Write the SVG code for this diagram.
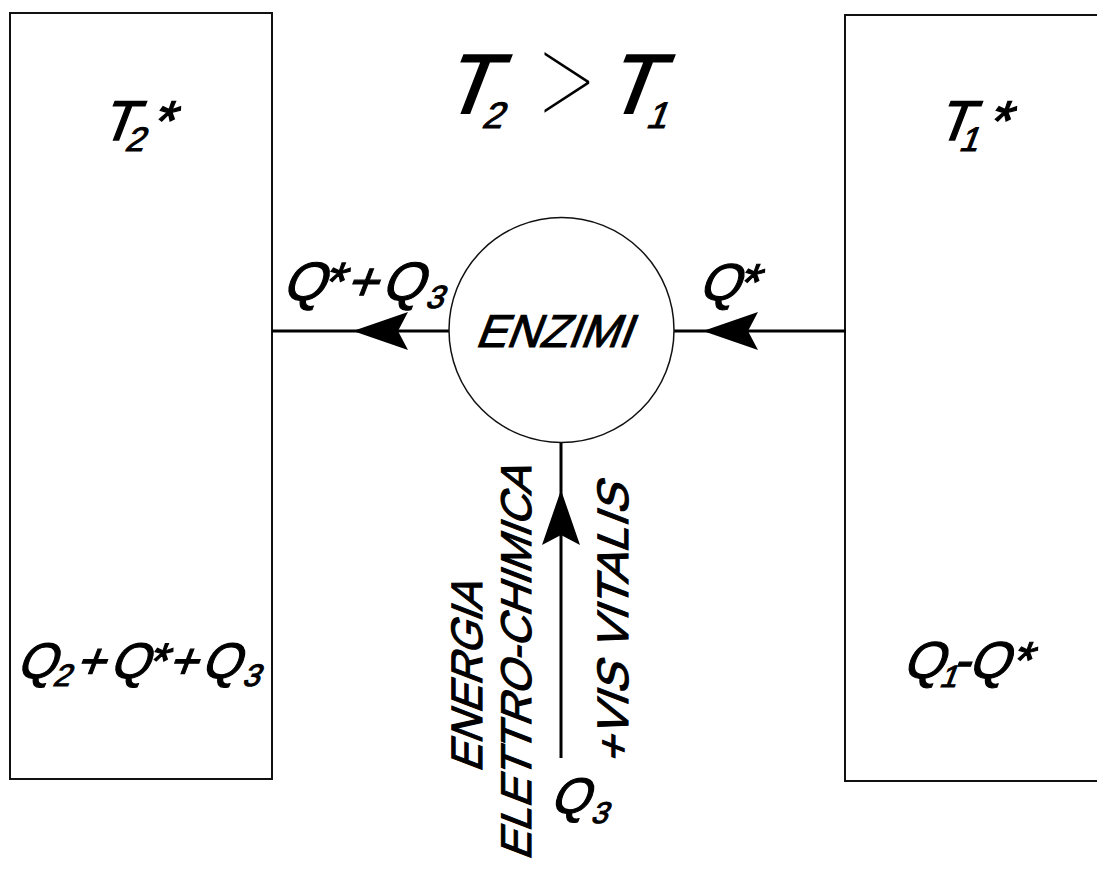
<svg xmlns="http://www.w3.org/2000/svg" width="1097" height="872" viewBox="0 0 1097 872">
  <style>
    .box { fill: none; stroke: #111; stroke-width: 2; }
    .conn { fill: none; stroke: #000; stroke-width: 3; }
    .circ { fill: #fff; stroke: #111; stroke-width: 1.5; }
    text { font-family: "Liberation Sans", Arial, sans-serif; fill: #000; stroke: #000; stroke-width: 1.1; }
    .big { font-size: 84px; stroke-width: 2; }
    .sub1 { font-size: 37px; }
    .mid { font-size: 56px; stroke-width: 1.4; }
    .sub2 { font-size: 34px; }
    .lab { font-size: 50px; }
    .lab2 { font-size: 54px; }
    .lab3 { font-size: 52px; }
    .sub3 { font-size: 31px; }
    .vert { font-size: 44px; }
    .gt { font-family: "Inter", "DejaVu Sans", sans-serif; font-weight: 100; font-size: 115px; stroke: none; }
  </style>
  <defs>
    <marker id="ah" markerUnits="userSpaceOnUse" viewBox="-60 -25 65 50" refX="0" refY="0" markerWidth="65" markerHeight="50" orient="auto" overflow="visible">
      <polygon points="0,0 -55,-19 -45,0 -55,19" fill="#000"/>
    </marker>
  </defs>
  <rect width="1097" height="872" fill="#fff"/>

  <g id="box-hot">
    <rect class="box" x="10" y="13" width="262" height="766"/>
    <text class="mid" transform="translate(99,140) skewX(-21)">T</text>
    <text class="sub2" transform="translate(124,151) skewX(-21)">2</text>
    <text class="mid" transform="translate(148,140) skewX(-21)">*</text>
    <text class="lab" transform="translate(15.5,678) skewX(-21)">Q</text>
    <text class="sub3" transform="translate(52,686) skewX(-21)">2</text>
    <text class="lab" transform="translate(74,678) skewX(-21)">+</text>
    <text class="lab" transform="translate(108.5,678) skewX(-21)">Q</text>
    <text class="lab" transform="translate(144,678) skewX(-21)">*</text>
    <text class="lab" transform="translate(166.5,678) skewX(-21)">+</text>
    <text class="lab" transform="translate(200,678) skewX(-21)">Q</text>
    <text class="sub3" transform="translate(241.5,686) skewX(-21)">3</text>
  </g>

  <g id="box-cold">
    <rect class="box" x="845" y="15" width="270" height="766"/>
    <text class="mid" transform="translate(935,140) skewX(-21)">T</text>
    <text class="sub2" transform="translate(958,151) skewX(-21)">1</text>
    <text class="mid" transform="translate(984,140) skewX(-21)">*</text>
    <text class="lab3" transform="translate(901.5,678) skewX(-21)">Q</text>
    <text class="sub3" transform="translate(938.5,687) skewX(-21)">1</text>
    <text class="lab3" transform="translate(951,678) skewX(-21)">-</text>
    <text class="lab3" transform="translate(967,678) skewX(-21)">Q</text>
    <text class="lab3" transform="translate(1007.5,678) skewX(-21)">*</text>
  </g>

  <g id="title">
    <text class="big" transform="translate(440,113) skewX(-21)">T</text>
    <text class="sub1" transform="translate(481,128) skewX(-21)">2</text>
    <text class="gt" x="528" y="115">&gt;</text>
    <text class="big" transform="translate(603,113) skewX(-21)">T</text>
    <text class="sub1" transform="translate(645,128) skewX(-21)">1</text>
  </g>

  <g id="connectors">
    <path class="conn" d="M449,331 L353,331 L272,331" marker-mid="url(#ah)"/>
    <path class="conn" d="M846,331 L703,331 L674,331" marker-mid="url(#ah)"/>
    <path class="conn" d="M561,758 L561,490 L561,442" marker-mid="url(#ah)"/>
  </g>

  <g id="enzimi">
    <circle class="circ" cx="561.5" cy="330" r="112.5"/>
    <text class="lab" style="font-size:46px" transform="translate(474.5,347) skewX(-21)">ENZIMI</text>
  </g>

  <g id="labels">
    <text class="lab2" transform="translate(281,300) skewX(-21)">Q</text>
    <text class="lab2" transform="translate(319,300) skewX(-21)">*</text>
    <text class="lab2" transform="translate(344,300) skewX(-21)">+</text>
    <text class="lab2" transform="translate(380,300) skewX(-21)">Q</text>
    <text class="sub3" style="font-size:32px" transform="translate(424.5,308) skewX(-21)">3</text>
    <text class="lab3" transform="translate(697.5,300) skewX(-21)">Q</text>
    <text class="lab3" transform="translate(734.5,300) skewX(-21)">*</text>
    <text class="vert" transform="translate(482,773) rotate(-90) skewX(-21)" textLength="190" lengthAdjust="spacingAndGlyphs">ENERGIA</text>
    <text class="vert" style="font-size:43px" transform="translate(531,467) rotate(-90) skewX(-21)" text-anchor="end">ELETTRO-CHIMICA</text>
    <text class="lab" transform="translate(549,813) skewX(-21)">Q</text>
    <text class="sub3" style="font-size:30px" transform="translate(590,823) skewX(-21)">3</text>
    <text class="vert" transform="translate(628,765) rotate(-90) skewX(-21)" textLength="280" lengthAdjust="spacingAndGlyphs">+VIS VITALIS</text>
  </g>
</svg>
